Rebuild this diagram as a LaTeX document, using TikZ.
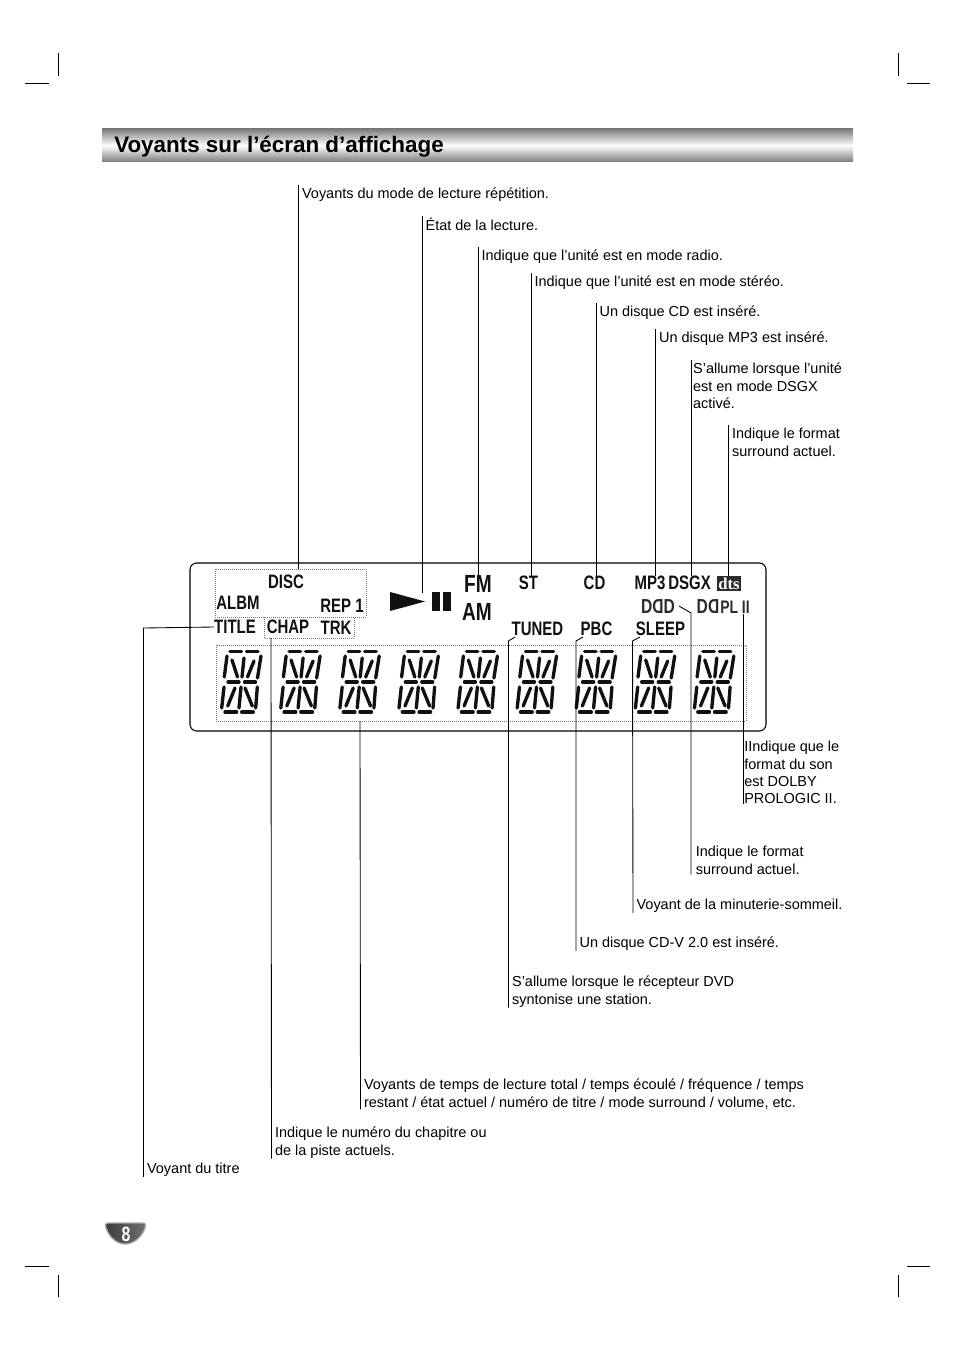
\documentclass[tikz,border=0pt]{standalone}
\usepackage{fontspec}
\setmainfont{Liberation Sans}
\newfontfamily\lcdfont[FakeStretch=0.77]{Liberation Sans}
\newfontfamily\dtsfont{Liberation Serif}
\usepackage{xcolor}
\usetikzlibrary{arrows.meta,calc,positioning}
\definecolor{barshade}{HTML}{7C7C7C}
\definecolor{lcdink}{HTML}{111111}
\definecolor{dotgray}{HTML}{777777}
\definecolor{badgedark}{HTML}{3C3C3C}
\definecolor{badgemid}{HTML}{707070}
\definecolor{badgerim}{HTML}{A8A8A8}
\definecolor{dolbygray}{HTML}{2C2C2C}

\begin{document}
\begin{tikzpicture}[x=0.75pt,y=-0.75pt]
  \tikzset{
    note/.style={anchor=north west, align=left, inner xsep=2.5pt, inner ysep=2.1pt, font=\fontsize{10.85}{13.1}\selectfont},
    leader/.style={draw=black, line width=0.65pt},
    leaderup/.style={leader, shorten <=2pt},
    cropmark/.style={draw=black, line width=0.5pt},
    dotbox/.style={draw=dotgray, line width=0.5pt, densely dotted},
    lcdtext/.style={inner sep=0pt, text=lcdink, font=\lcdfont\bfseries\fontsize{14.6}{15}\selectfont},
    lcdbig/.style={inner sep=0pt, text=lcdink, font=\lcdfont\bfseries\fontsize{18.6}{19}\selectfont},
    dolby/.style={inner sep=0pt, text=dolbygray, font=\lcdfont\bfseries\fontsize{15.2}{15}\selectfont},
    seg/.style={draw=lcdink, line width=2.5pt, line cap=round},
    lcdchar/.pic={
      \foreach \ax/\ay/\bx/\by in {15/11.7/26.5/11.7, 31.5/11.7/43/11.7, 12/16/9.3/37, 29/18/27/37, 46/16/42.5/38, 17/20/22.5/37, 39/21/32.5/37, 13/42/24/42, 29.5/42/40.5/42, 9/47/6.7/68, 26/47/24/68, 42.3/47/40.7/68, 20/48/12.7/66, 30/48/37.3/66, 10/72/21.7/72, 26.7/72/38.3/72}
        \draw[seg] (\ax,\ay) -- (\bx,\by);
    }
  }
  \useasboundingbox (0,0) rectangle (954,1351);
  \fill[white] (0,0) rectangle (954,1351);

  % crop marks
  \foreach \cx/\hx/\hxb in {58/25/49, 898/907/930} {
    \draw[cropmark] (\cx,53) -- (\cx,76);
    \draw[cropmark] (\hx,83) -- (\hxb,83);
    \draw[cropmark] (\hx,1266) -- (\hxb,1266);
    \draw[cropmark] (\cx,1275) -- (\cx,1297);
  }

  % header
  \shade[top color=barshade, bottom color=barshade, middle color=white] (102,129) rectangle (853,162);
  \node[anchor=base west, inner sep=0pt, font=\bfseries\fontsize{16.8}{20}\selectfont] (title) at (114,153) {Voyants sur l’écran d’affichage};

  % display
  \draw[draw=black, line width=0.8pt, rounded corners=5pt] (190,563) rectangle (766,731);
  \draw[dotbox] (215,569) rectangle (366,617);
  \draw[dotbox] (264,617) rectangle (354,638);
  \draw[dotbox] (216,645) rectangle (746,721);
  \coordinate (boxrep) at (298,569);
  \coordinate (boxchap) at (271,638);
  \coordinate (boxtime) at (360,721);

  \node[lcdtext] (disc) at (286,582) {DISC};
  \node[lcdtext] (albm) at (238,603) {ALBM};
  \node[lcdtext] (rep) at (342,606) {REP 1};
  \node[lcdtext] (ttl) at (235,627) {TITLE};
  \node[lcdtext] (chap) at (288,627) {CHAP};
  \node[lcdtext] (trk) at (336,628) {TRK};
  \node[lcdbig] (fm) at (478,584) {FM};
  \node[lcdbig] (am) at (477,612) {AM};
  \node[lcdtext] (st) at (528.5,583) {ST};
  \node[lcdtext] (cd) at (594.5,583) {CD};
  \node[lcdtext] (mp) at (650,583) {MP3};
  \node[lcdtext] (dsgx) at (689.5,583) {DSGX};
  \node[lcdtext] (tuned) at (537.5,629) {TUNED};
  \node[lcdtext] (pbc) at (596.5,629) {PBC};
  \node[lcdtext] (sleep) at (660.5,629) {SLEEP};
  \node[dolby] (ddd) at (658,607) {D\reflectbox{D}D};
  \node[dolby] (dd) at (708,607) {D\reflectbox{D}};
  \node[inner sep=0pt, text=dolbygray, font=\lcdfont\bfseries\fontsize{13.6}{14}\selectfont] (plii) at (735,607) {PL II};
  \node[fill=dolbygray, text=white, inner sep=0pt, minimum width=18pt, minimum height=11.5pt, font=\dtsfont\bfseries\fontsize{12.5}{11}\selectfont] (dts) at (729,583.5) {dts};

  \fill[lcdink] (390,592) -- (425,601.5) -- (390,611) -- cycle;
  \fill[lcdink] (432,592) rectangle (440,611);
  \fill[lcdink] (443,592) rectangle (451,611);
  \coordinate (playtip) at (422,593);

  \foreach \n in {0,...,8}
    \pic at ({215+59.1*\n},640) {lcdchar};

  % notes above
  \node[note] (nrep) at (298.5,185) {Voyants du mode de lecture répétition.};
  \node[note, inner ysep=1.4pt] (nplay) at (422,216) {État de la lecture.};
  \node[note] (nradio) at (478,247) {Indique que l’unité est en mode radio.};
  \node[note] (nstereo) at (531,273) {Indique que l’unité est en mode stéréo.};
  \node[note] (ncd) at (596,303) {Un disque CD est inséré.};
  \node[note] (nmp) at (655.5,329) {Un disque MP3 est inséré.};
  \node[note, inner xsep=1.4pt] (ndsgx) at (691,360) {S’allume lorsque l’unité\\est en mode DSGX\\activé.};
  \node[note] (nsur) at (728.5,425) {Indique le format\\surround actuel.};

  % notes below
  \node[note, inner xsep=0.8pt] (npl) at (743,738) {IIndique que le\\format du son\\est DOLBY\\PROLOGIC II.};
  \node[note, inner xsep=3.4pt] (nddd) at (691,843) {Indique le format\\surround actuel.};
  \node[note] (nsleep) at (633,896) {Voyant de la minuterie-sommeil.};
  \node[note] (npbc) at (576,934) {Un disque CD-V 2.0 est inséré.};
  \node[note] (ntuned) at (508.5,973) {S’allume lorsque le récepteur DVD\\syntonise une station.};
  \node[note] (ntime) at (360.5,1076) {Voyants de temps de lecture total / temps écoulé / fréquence / temps\\restant / état actuel / numéro de titre / mode surround / volume, etc.};
  \node[note] (nchap) at (271.5,1124) {Indique le numéro du chapitre ou\\de la piste actuels.};
  \node[note] (nttl) at (143.5,1160) {Voyant du titre};

  % leaders
  \draw[leader] (nrep.north west) -- (nrep.north west |- boxrep);
  \draw[leader] (nplay.north west) -- (nplay.north west |- playtip);
  \draw[leader] (nradio.north west) -- (nradio.north west |- fm.north);
  \draw[leader] (nstereo.north west) -- (nstereo.north west |- st.north);
  \draw[leader] (ncd.north west) -- (ncd.north west |- cd.north);
  \draw[leader] (nmp.north west) -- (nmp.north west |- mp.north);
  \draw[leader] (ndsgx.north west) -- (ndsgx.north west |- dsgx.north);
  \draw[leader] (nsur.north west) -- (nsur.north west |- dts.north);
  \draw[leaderup] (npl.south west) -- (npl.south west |- plii.south);
  \coordinate (dddbend) at (691,613);
  \coordinate (dddtip) at (679,606);
  \draw[leaderup] (nddd.south west) -- (dddbend) -- (dddtip);
  \draw[leaderup] (nsleep.south west) -- (632.5,641) -- (640,637);
  \draw[leaderup] (npbc.south west) -- (576,641) -- (583,637);
  \draw[leaderup] (ntuned.south west) -- (508.5,641) -- (515,637);
  \draw[leaderup] (ntime.south west) -- (boxtime);
  \draw[leaderup] (nchap.south west) -- (boxchap);
  \draw[leaderup] (nttl.south west) -- (143.5,628) -- (ttl.west);

  % page badge
  \draw[draw=badgerim, line width=1pt, left color=badgedark, right color=badgemid] (108,1223) -- (143,1223) .. controls (146,1223) and (146,1226) .. (145,1228) .. controls (141,1239) and (132,1244) .. (125.5,1244) .. controls (118,1244) and (110,1239) .. (106,1228) .. controls (105,1226) and (105,1223) .. (108,1223) -- cycle;
  \node[inner sep=0pt, text=white, font=\lcdfont\bfseries\fontsize{15.5}{16}\selectfont] (page) at (126,1234) {8};
\end{tikzpicture}
\end{document}
